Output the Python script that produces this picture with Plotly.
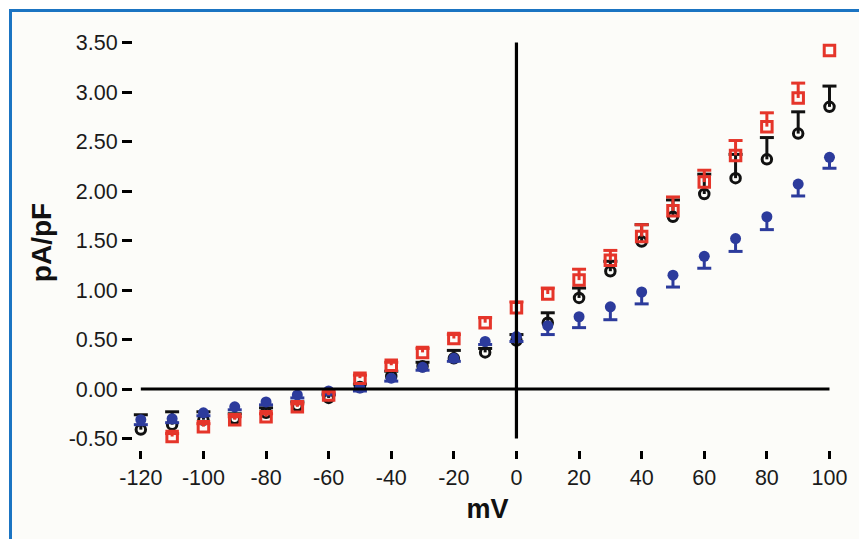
import plotly.graph_objects as go

mv = [-120, -110, -100, -90, -80, -70, -60, -50, -40, -30, -20, -10, 0,
      10, 20, 30, 40, 50, 60, 70, 80, 90, 100]

black_mean = [-0.41, -0.36, -0.31, -0.30, -0.24, -0.17, -0.09, 0.02, 0.13, 0.23, 0.31, 0.37, 0.49,
              0.67, 0.92, 1.19, 1.49, 1.74, 1.97, 2.13, 2.32, 2.58, 2.85]
black_err = [0.15, 0.13, 0.08, 0.05, 0.05, 0.04, 0.03, 0.03, 0.05, 0.04, 0.08, 0.04, 0.06,
             0.10, 0.10, 0.10, 0.17, 0.17, 0.20, 0.24, 0.22, 0.22, 0.21]

red_mv = mv[1:]
red_mean = [-0.48, -0.38, -0.31, -0.28, -0.18, -0.06, 0.11, 0.24, 0.37, 0.51, 0.67, 0.82,
            0.96, 1.10, 1.30, 1.54, 1.80, 2.09, 2.36, 2.65, 2.94, 3.42]
red_err = [0.03, 0.03, 0.03, 0.03, 0.03, 0.03, 0.03, 0.03, 0.04, 0.04, 0.05, 0.06,
           0.06, 0.11, 0.10, 0.12, 0.14, 0.12, 0.15, 0.14, 0.15, 0.0]

blue_mean = [-0.31, -0.30, -0.24, -0.18, -0.13, -0.06, -0.02, 0.01, 0.11, 0.22, 0.31, 0.48, 0.53,
             0.64, 0.73, 0.83, 0.98, 1.15, 1.34, 1.52, 1.74, 2.07, 2.34]
blue_err = [0.05, 0.04, 0.03, 0.03, 0.03, 0.03, 0.03, 0.03, 0.03, 0.03, 0.03, 0.03, 0.05,
            0.09, 0.11, 0.13, 0.12, 0.12, 0.12, 0.13, 0.13, 0.12, 0.11]

y_ticks = [-0.5, 0.0, 0.5, 1.0, 1.5, 2.0, 2.5, 3.0, 3.5]
y_ticklabels = ["-0.50", "0.00", "0.50", "1.00", "1.50", "2.00", "2.50", "3.00", "3.50"]
x_ticks = [-120, -100, -80, -60, -40, -20, 0, 20, 40, 60, 80, 100]
x_ticklabels = ["-120", "-100", "-80", "-60", "-40", "-20", "0", "20", "40", "60", "80", "100"]

BLACK = "#111111"
RED = "#e5352a"
BLUE = "#2c3b9c"

W, H = 867, 539
OFF = 8  # page body margin
L, T = 133 - OFF, 35 - OFF
PW, PH = 709, 415
R = W - L - PW
B = H - T - PH
LW = 3


def series(fig, x, mean, err, color, symbol, size, direction):
    # stems (no caps) + cap markers at the bar end + the point markers
    ups = err if direction > 0 else [0] * len(err)
    downs = err if direction < 0 else [0] * len(err)
    fig.add_trace(go.Scatter(
        x=x, y=mean, mode="markers", marker=dict(size=1, opacity=0),
        error_y=dict(type="data", symmetric=False, array=ups, arrayminus=downs,
                     color=color, thickness=LW, width=0),
        showlegend=False, hoverinfo="skip"))
    cx = [xi for xi, e in zip(x, err) if e > 0]
    cy = [m + direction * e for m, e in zip(mean, err) if e > 0]
    fig.add_trace(go.Scatter(
        x=cx, y=cy, mode="markers",
        marker=dict(symbol="line-ew-open", size=10, color=color, line=dict(width=LW, color=color)),
        showlegend=False, hoverinfo="skip"))
    mk = dict(symbol=symbol, size=size, color=color)
    if symbol.endswith("open"):
        mk["line"] = dict(width=LW, color=color)
    fig.add_trace(go.Scatter(x=x, y=mean, mode="markers", marker=mk, showlegend=False))


fig = go.Figure()
series(fig, mv, black_mean, black_err, BLACK, "circle-open", 9.5, 1)
series(fig, mv, blue_mean, blue_err, BLUE, "circle", 11, -1)
series(fig, red_mv, red_mean, red_err, RED, "square-open", 10.5, 1)

# blue frame around the panel (extends past right/bottom edges)
fx0, fy0 = 10.5 - OFF, 10.5 - OFF
fig.add_shape(type="rect", xref="paper", yref="paper",
              x0=(fx0 - L) / PW, x1=(W + 20 - L) / PW,
              y0=(T + PH - (H + 20)) / PH, y1=(T + PH - fy0) / PH,
              line=dict(color="#1b74c2", width=3), fillcolor="#fcfcf9", layer="below")

# zero axes
fig.add_shape(type="line", x0=-120, x1=100, y0=0, y1=0, xref="x", yref="y",
              line=dict(color="black", width=3.2))
fig.add_shape(type="line", x0=0, x1=0, y0=-0.5, y1=3.5, xref="x", yref="y",
              line=dict(color="black", width=3.2))

fig.update_layout(
    width=W, height=H,
    margin=dict(l=L, r=R, t=T, b=B, autoexpand=False),
    paper_bgcolor="white", plot_bgcolor="rgba(0,0,0,0)",
    font=dict(family="Liberation Sans, Arial, sans-serif", color="#1a1a1a"),
    xaxis=dict(range=[-122.5, 104], showgrid=False, zeroline=False, showline=False,
               tickmode="array", tickvals=x_ticks, ticktext=x_ticklabels,
               ticks="outside", ticklen=8, tickwidth=3,
               tickcolor="black", tickfont=dict(size=21.5, color="#1a1a1a"),
               title=dict(text="<b>mV</b>", font=dict(size=27, color="#111111"), standoff=10)),
    yaxis=dict(range=[-0.616, 3.576], showgrid=False, zeroline=False, showline=False,
               tickmode="array", tickvals=y_ticks, ticktext=y_ticklabels, ticks="outside",
               ticklen=10, tickwidth=3, tickcolor="black",
               tickfont=dict(size=21.5, color="#1a1a1a"),
               title=dict(text="<b>pA/pF</b>", font=dict(size=28, color="#111111"), standoff=8)),
)

fig.write_html("out.html")
